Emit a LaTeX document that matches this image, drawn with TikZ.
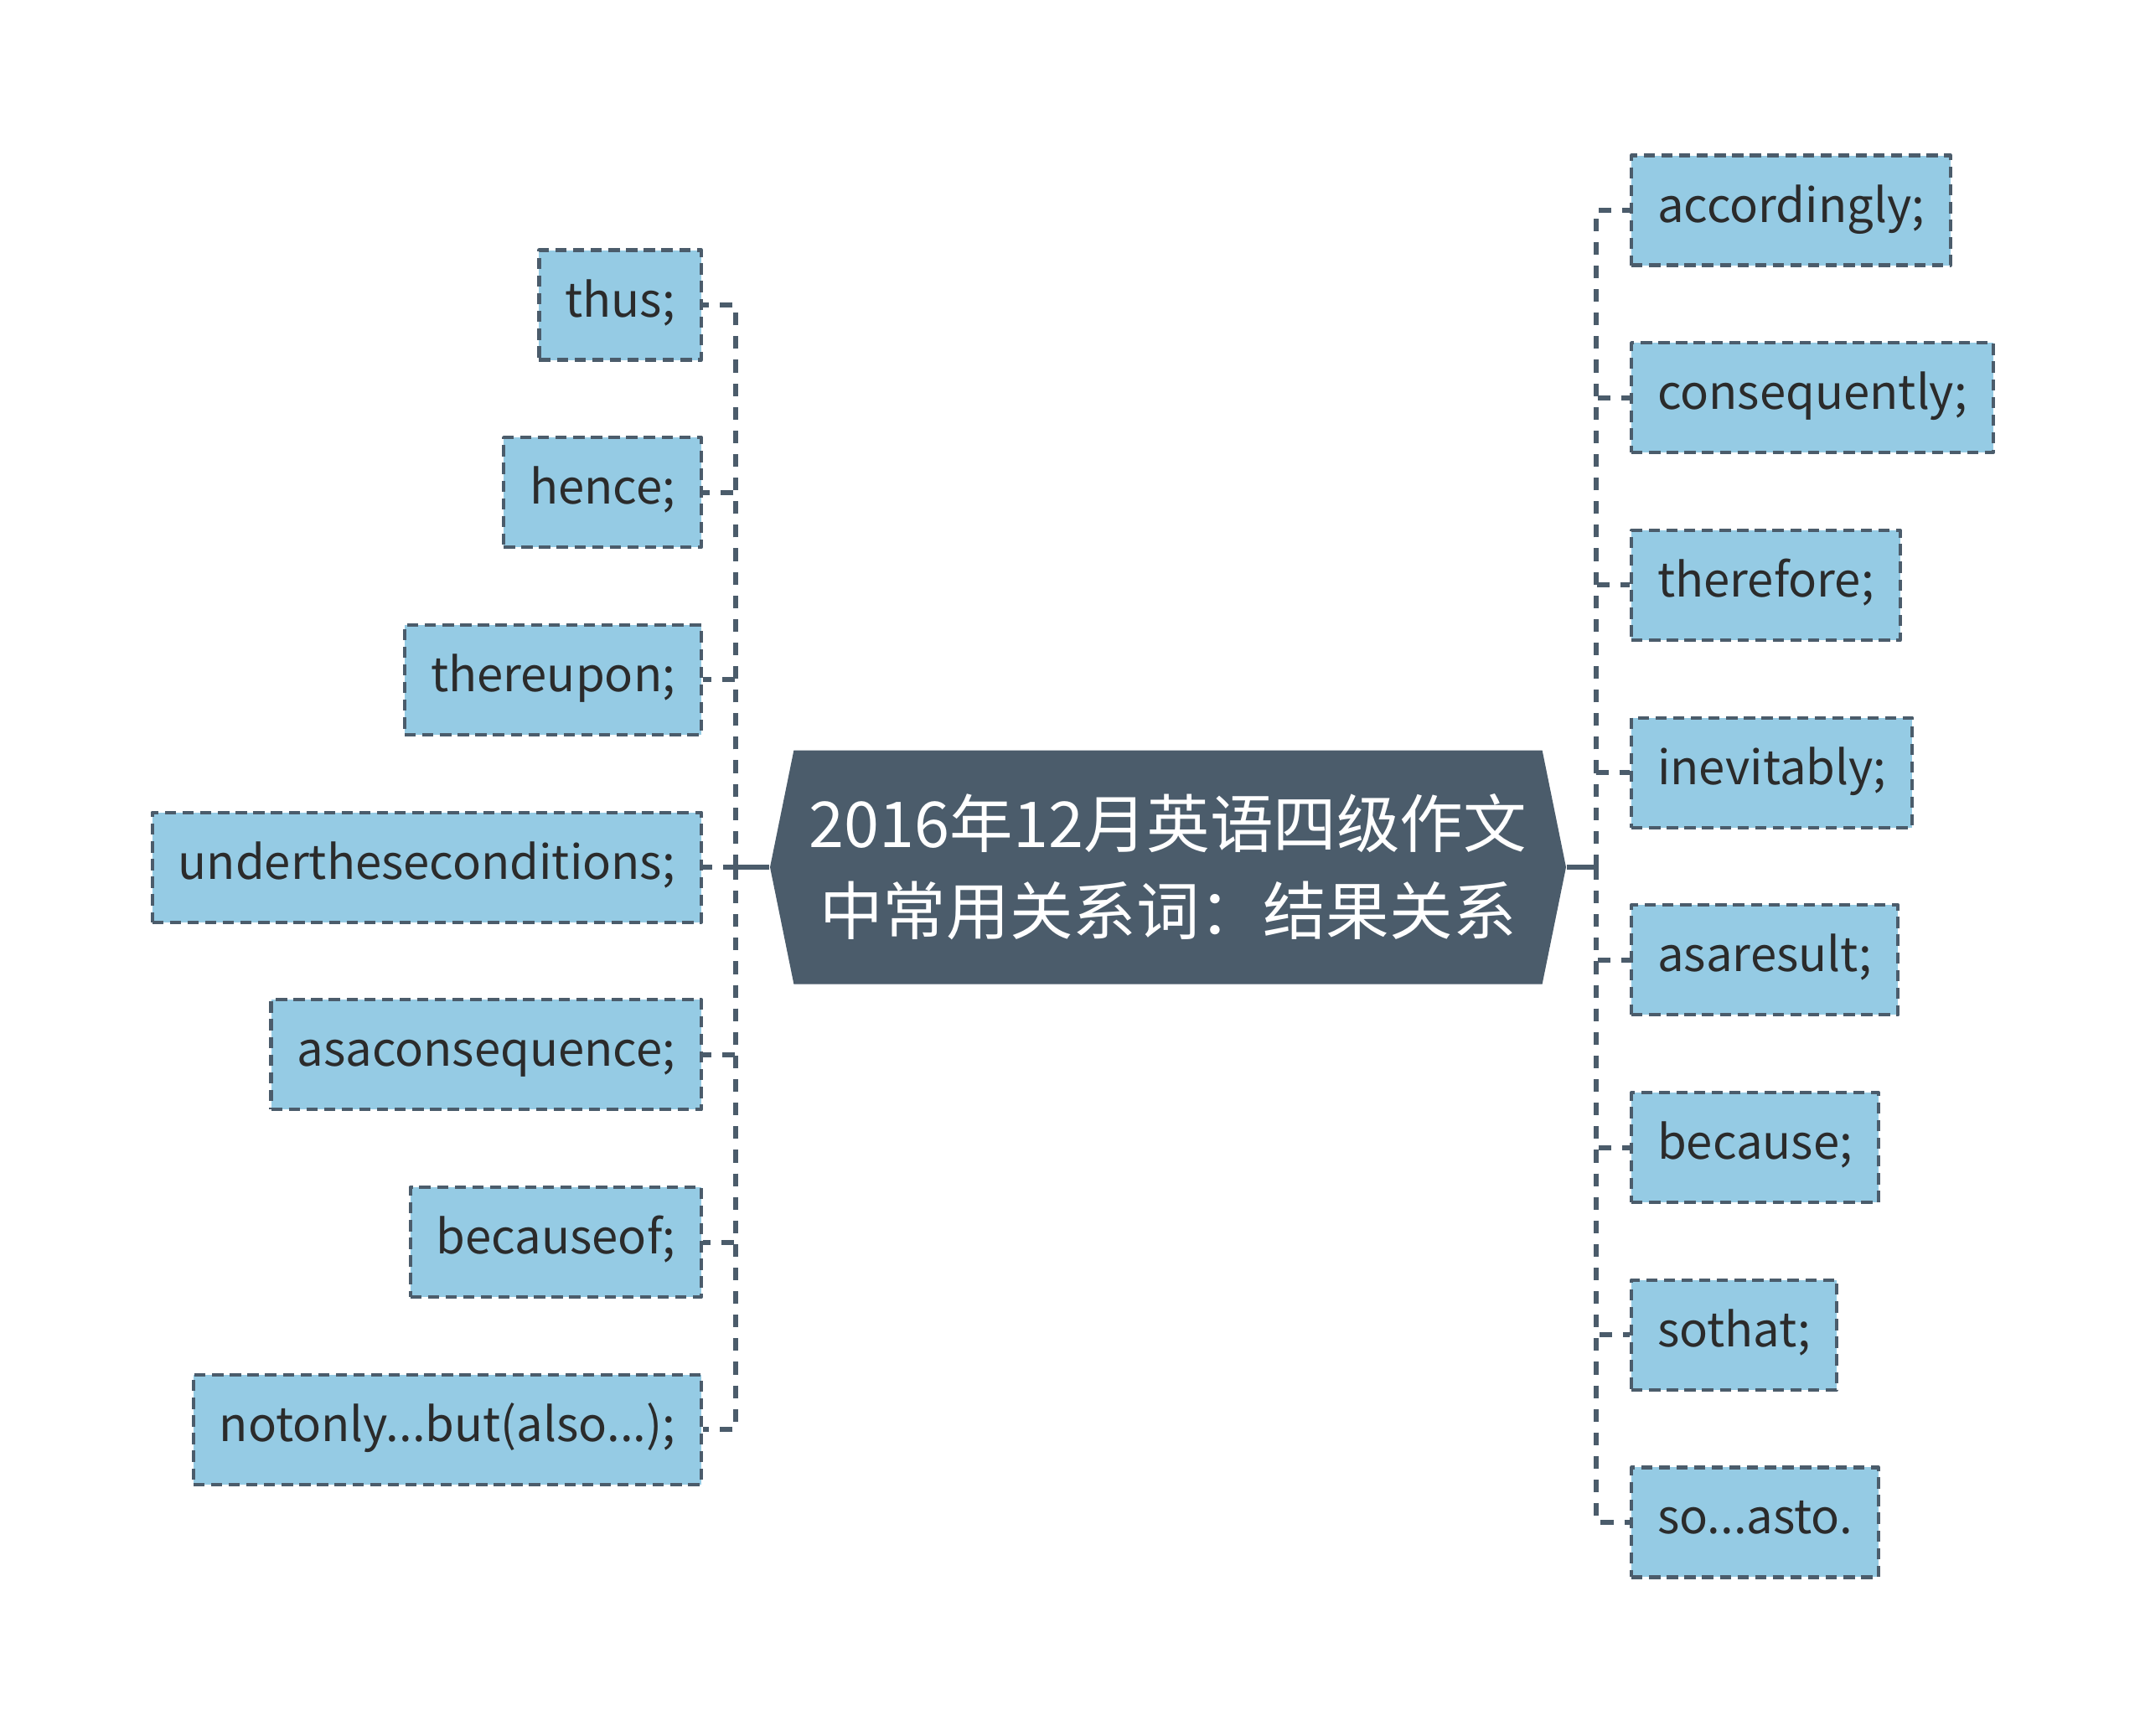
\documentclass[tikz,border=0pt]{standalone}
\usepackage{fontspec}
\setmainfont{Noto Sans CJK SC}
\usetikzlibrary{shapes.symbols}
\definecolor{slate}{HTML}{4B5C6B}
\definecolor{leafblue}{HTML}{95CBE4}
\definecolor{ink}{HTML}{2B2B2B}
\newcommand{\threedots}{...}
\tikzset{
	leaf/.style={draw=slate, fill=leafblue, dash pattern=on 3.8pt off 2.2pt, line width=1.2pt, text=ink, font=\fontsize{16}{20}\selectfont, inner xsep=0.31cm, text height=0.9em, text depth=0.1em, minimum height=1.31cm},
	link/.style={draw=slate, line width=1.7pt, dash pattern=on 4.3pt off 3.7pt},
}
\begin{document}
\begin{tikzpicture}[line join=round]
	\useasboundingbox (0,0) rectangle (25.6,-20.71);
	\node[signal, signal to=west and east, signal pointer angle=157, fill=slate, text=white, minimum width=9.5cm, minimum height=2.79cm, align=center, font=\fontsize{21.5}{29.5}\selectfont] (root) at (13.94,-10.35) {2016年12月英语四级作文\\中常用关系词：结果关系};
	\coordinate (lj) at (8.78,-10.35);
	\coordinate (rj) at (19.05,-10.35);
	\draw[slate, line width=1.7pt] (root.west) -- (lj) (root.east) -- (rj);
	% left side
	\foreach \t [count=\i] in {thus;, hence;, thereupon;, undertheseconditions;, asaconsequence;, becauseof;, {notonly\threedots but(also\threedots);}}{
		\node[leaf, anchor=east] (l\i) at (8.39,{-3.64-2.237*(\i-1)}) {\t};
		\draw[link] (lj) |- (l\i.east);
	}
	% right side
	\foreach \t [count=\i] in {accordingly;, consequently;, therefore;, inevitably;, asaresult;, because;, sothat;, {so\threedots asto.}}{
		\node[leaf, anchor=west] (r\i) at (19.45,{-2.51-2.237*(\i-1)}) {\t};
		\draw[link] (rj) |- (r\i.west);
	}
\end{tikzpicture}
\end{document}
